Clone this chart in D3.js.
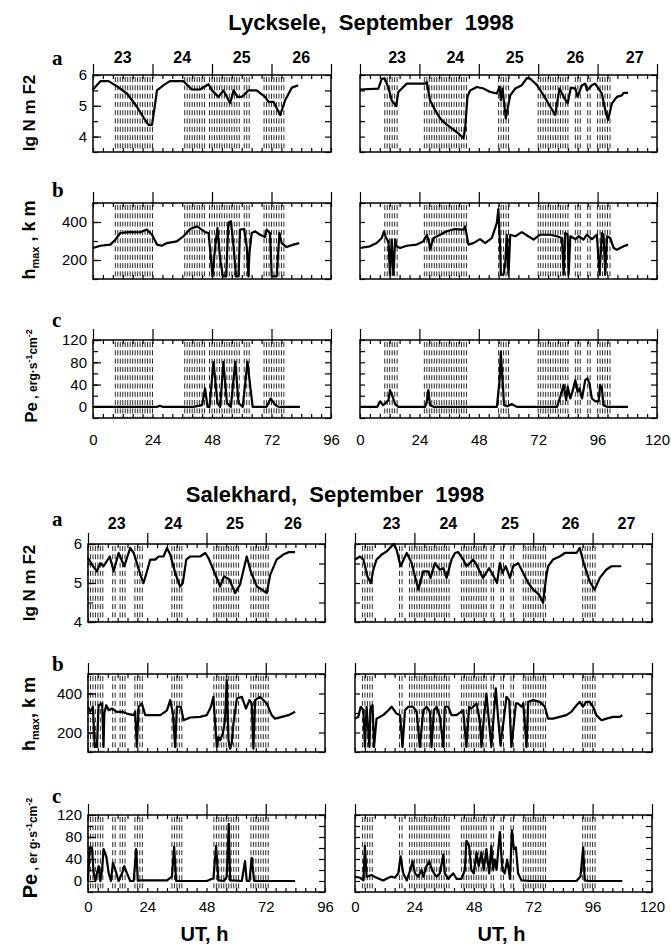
<!DOCTYPE html>
<meta charset="utf-8">
<style>
    body { margin: 0; background: #fff; }
    svg { font-family: "Liberation Sans", Arial, sans-serif; }
    .frame { fill: none; stroke: #000; stroke-width: 1.5px; }
    .tick line { stroke: #000; stroke-width: 1.2px; }
    .tick text { font-size: 15px; fill: #000; }
    .domain { display: none; }
    .aur { stroke: #2a2a2a; stroke-width: 1px; stroke-dasharray: 5,3.3; }
    .series { fill: none; stroke: #000; stroke-width: 2.2px; stroke-linejoin: round; }
    .letter { font-family: "Liberation Serif", "Times New Roman", serif; font-weight: bold; font-size: 21px; }
    .day { font-weight: bold; font-size: 16px; text-anchor: middle; }
    .ytitle { font-weight: bold; text-anchor: middle; }
    .title { font-weight: bold; font-size: 22px; text-anchor: middle; white-space: pre; }
</style>
<body>
<script src="https://d3js.org/d3.v7.min.js"></script>
<script>
// ---------- data (UT hours, value) ----------
var xTicksLeft = [0, 24, 48, 72, 96],
    xTicksRight = [0, 24, 48, 72, 96, 120];
var daysLeft = ["23", "24", "25", "26"],
    daysRight = ["23", "24", "25", "26", "27"];

// Lycksele
var lyckDayHoursL = [12, 36, 60, 84],
    lyckDayHoursR = [15, 38.5, 62.5, 87, 111];
var lyckAurL = [[9, 24], [37, 45], [47, 59], [61, 63], [69, 77]],
    lyckAurR = [[10, 15], [26, 43], [56, 60], [72, 84], [87, 89], [92, 93], [96, 101]];

var lyckL_nmf2 = [[0,5.53],[3,5.8],[6.3,5.8],[9.7,5.63],[13.7,5.4],[17.7,4.97],[21,4.54],[22.4,4.38],[23.8,4.38],[24.7,4.86],[25.8,5.5],[28.5,5.67],[31,5.8],[36.5,5.8],[39.9,5.53],[43.2,5.53],[46.6,5.7],[48,5.5],[50.6,5.29],[52.6,5.5],[54,5.29],[55.3,5.08],[56.7,5.5],[58.3,5.29],[60,5.29],[62.7,5.5],[66,5.5],[69.4,5.29],[70.8,5.13],[72.8,5.13],[75.5,4.7],[77.5,5.18],[80.2,5.59],[82.8,5.67]];
var lyckR_nmf2 = [[0,5.53],[7.4,5.56],[8.8,5.88],[10,5.88],[11.5,5.59],[12.8,5.18],[14.6,4.99],[15.5,5.45],[16.9,5.56],[18.9,5.72],[26.3,5.72],[27,5.77],[28.3,5.18],[30.3,4.86],[32.4,4.59],[34.4,4.43],[37.1,4.27],[39.8,4.1],[41.8,3.95],[42.5,4.27],[43.4,5.29],[44.5,5.5],[47.2,5.61],[49.9,5.56],[52.6,5.45],[55.3,5.4],[56.4,5.61],[56.9,5.18],[57.6,5.56],[58.9,4.59],[60.7,5.34],[62.7,5.56],[65.4,5.67],[67.4,5.9],[68.8,5.88],[71.5,5.67],[74.2,5.34],[76.9,4.97],[78.9,4.7],[80.6,5.56],[82.3,5.29],[83.9,5.08],[85.2,5.59],[87,5.56],[87.9,5.29],[89.7,5.67],[91,5.72],[91.7,5.5],[93.7,5.67],[95,5.72],[96.4,5.56],[97.7,5.4],[99.1,4.86],[100.2,4.54],[101.8,5.08],[103.8,5.29],[105.8,5.34],[106.5,5.42],[108.3,5.42]];

var lyckL_hmax = [[0,263],[3,275],[7,281],[9,307],[11,342],[14.4,347],[19,346],[21.7,360],[23.8,333],[25.8,281],[27.8,275],[29.8,289],[33.8,298],[36.5,325],[39.2,363],[41.9,377],[43.9,360],[45.2,347],[46.6,342],[47.5,219],[48.2,114],[49.3,272],[50.2,368],[51.3,202],[52.4,114],[53.7,114],[54.6,395],[55.6,404],[56.7,272],[57.7,114],[58.7,114],[59.3,360],[61,363],[62,272],[62.7,114],[63.1,237],[64,342],[65.4,351],[67.4,333],[69.4,321],[70,360],[71.4,342],[72.1,114],[74.1,114],[75.2,342],[76.1,289],[78.1,268],[80.8,281],[83.2,289]];
var lyckR_hmax = [[0,263],[4,272],[6.7,289],[8.8,316],[9.7,351],[10.5,316],[11.5,298],[12.1,123],[12.8,307],[13.5,123],[14.2,307],[14.8,272],[16.2,263],[18.9,275],[22.9,281],[25.6,298],[27,333],[28,289],[28.3,254],[29.7,316],[32.4,333],[35,351],[38.4,363],[41.8,360],[42.5,377],[43.8,281],[45.8,289],[48.5,310],[50.6,289],[53.3,316],[55.3,395],[55.9,468],[56.6,272],[56.9,123],[58,123],[58.7,184],[59.3,333],[60,123],[60.7,333],[62.7,325],[65.4,347],[68,325],[70.1,307],[72.8,333],[76.9,333],[79.6,325],[81.6,316],[82.3,123],[82.9,342],[83.9,333],[84.3,123],[85,325],[87,310],[88.4,325],[90.3,307],[91.7,333],[93.7,310],[95.7,333],[96.8,123],[97.7,342],[98.4,333],[99.1,123],[99.8,325],[101.1,316],[102.5,263],[103.8,254],[106.5,272],[108.3,281]];

var lyckL_pe = [[0,0],[26,0],[27,2],[28,0],[40.5,0],[44,3],[45.2,33],[46.2,0],[47,0],[48.6,81],[50.2,7],[51.3,0],[52.6,81],[54,7],[55.6,0],[57.4,81],[58.7,7],[60.4,0],[62.3,81],[63.6,30],[64.4,0],[70,0],[71.7,15],[73.4,4],[74.8,0],[83.5,0]];
var lyckR_pe = [[0,0],[7,0],[8.1,10],[9.4,3],[11.5,12],[12.1,30],[13.2,18],[14.2,5],[15.5,0],[26.3,0],[27,10],[27.6,30],[28.3,3],[29.7,0],[55.3,0],[56.4,48],[56.9,99],[57.6,48],[58.2,3],[59.5,1],[61.3,5],[63.4,0],[79.6,0],[80.9,18],[82.3,39],[83.3,12],[83.9,36],[85,15],[86,30],[87,48],[87.9,27],[88.7,33],[89.7,15],[91,48],[91.9,51],[92.7,42],[93.7,15],[95,10],[96.4,10],[97,39],[97.7,33],[98.4,3],[99.8,0],[108.3,0]];

// Salekhard
var salDayHoursL = [11.6, 34.5, 59.5, 83],
    salDayHoursR = [14.8, 37.7, 62.6, 87.1, 109.7];
var salAurL = [[0, 6], [10, 11], [13, 15], [19, 22], [34, 38], [51, 61], [66, 73]],
    salAurR = [[3, 7], [18, 19], [22, 38], [43, 53], [55, 56], [59, 60], [63, 64], [68, 77], [92, 97]];

var salL_nmf2 = [[0,5.64],[1.6,5.47],[3.6,5.3],[5,5.51],[6.3,5.43],[8.8,5.68],[10.4,5.3],[12.4,5.77],[14.7,5.43],[17.1,5.9],[18.5,5.77],[19.8,5.51],[21.2,5.21],[22.5,5.0],[23.9,5.3],[25.2,5.6],[27.2,5.6],[28.6,5.68],[30.6,5.68],[32,5.9],[33.3,5.73],[35.3,5.26],[37.3,4.91],[38.4,5.0],[39.8,5.6],[41.4,5.68],[45.4,5.68],[47.5,5.77],[48.8,5.64],[50.8,5.34],[53.5,4.91],[55.1,5.17],[57.3,5.09],[59.6,4.74],[61.6,4.96],[64.3,5.68],[65.9,5.3],[68.4,4.91],[70.4,4.83],[72.4,4.74],[73.8,5.21],[76.4,5.6],[79.1,5.73],[81.2,5.79],[83.9,5.79]];
var salR_nmf2 = [[0,5.6],[2,5.68],[3.4,5.6],[5,5.17],[6.4,5.0],[7.4,5.34],[8.7,5.6],[10.8,5.73],[12.8,5.81],[14.1,5.9],[15.7,6.0],[16.8,5.85],[18.4,5.43],[20.9,5.77],[22.9,5.51],[25.6,4.83],[27.6,5.3],[29.6,5.3],[30.5,5.13],[32.3,5.51],[34.3,5.34],[35.7,5.38],[37,5.13],[39,5.6],[40.4,5.77],[41.7,5.79],[43.7,5.6],[45,5.43],[46.4,5.51],[47.7,5.6],[49.1,5.47],[51.7,5.13],[54.2,5.38],[55.7,5.21],[57.4,5.0],[58.5,5.51],[59.6,5.26],[60.9,5.43],[62.6,5.13],[63.9,5.43],[65.9,5.51],[67.3,5.34],[70,5.0],[72,4.83],[74.4,4.7],[76,4.49],[77.1,5.09],[78,5.43],[80,5.6],[82.7,5.68],[84.8,5.77],[89.5,5.77],[90.8,5.9],[92.4,5.51],[94.8,5.04],[96.8,4.83],[98.9,5.13],[101.5,5.34],[103.6,5.43],[107.6,5.43]];

var salL_hmax = [[0,332],[0.9,306],[2,332],[2.7,126],[3.6,126],[4.3,340],[5.7,349],[6.3,126],[6.6,297],[7.4,340],[8.4,314],[9.7,323],[11.7,306],[13.8,306],[15.8,297],[18.5,289],[19.1,306],[19.8,126],[20.5,332],[21.8,349],[23.2,289],[29.3,289],[32,314],[33.3,366],[34.4,297],[35.3,126],[36,332],[37.6,332],[38.7,263],[41.4,277],[45.4,280],[48.1,289],[49.8,332],[50.8,383],[51.5,246],[52.2,126],[52.8,177],[53.5,160],[54.6,194],[55.5,263],[56.2,469],[56.9,160],[57.6,117],[58.2,143],[58.9,246],[60.3,374],[62.3,383],[64,323],[65.4,366],[66.3,349],[67,117],[67.7,366],[69.7,383],[72.4,349],[74.4,289],[75.8,271],[78.5,280],[81.2,289],[83.9,306]];
var salR_hmax = [[0,271],[1.3,280],[2.3,332],[3.4,314],[4,126],[4.7,332],[5.8,126],[6.3,332],[7.1,340],[7.7,126],[8.7,271],[11.4,289],[13.5,314],[14.8,332],[16.8,297],[18.2,289],[19.2,126],[20.2,314],[21.5,332],[23.5,332],[24.9,306],[26.2,126],[27.6,314],[28.9,332],[30.3,306],[30.9,126],[31.9,314],[33,332],[34.3,280],[35.7,126],[36.3,332],[37.7,332],[39,289],[41,289],[43.7,314],[45,126],[46.1,332],[47,323],[48.4,340],[49.1,349],[50.4,263],[51.1,126],[52,263],[53.1,400],[54.2,246],[55.1,126],[55.8,246],[56.9,426],[57.8,280],[58.8,134],[59.9,246],[61.2,383],[62.3,366],[63.2,126],[64.2,246],[65,349],[65.9,349],[67.3,332],[68,349],[69.3,126],[70,357],[72,366],[74.7,357],[76.7,332],[78,271],[80,271],[82.7,280],[85.4,289],[87.4,306],[89.5,340],[90.8,357],[92.1,332],[93.4,357],[94.8,357],[96.2,332],[97.5,289],[99.6,263],[101.6,271],[104.3,280],[107,280],[108,289]];

var salL_pe = [[0,0],[0.7,61],[1.6,61],[2.3,14],[3,0],[3.6,14],[4.3,27],[5,0],[5.7,20],[6.3,58],[7.4,45],[8.4,14],[9.3,0],[10.1,33],[11.1,20],[12.4,0],[13.8,14],[14.7,27],[15.8,14],[17.1,0],[18.5,0],[19.5,58],[20.2,0],[21.2,1],[32,1],[34,8],[34.9,62],[35.7,0],[48.1,0],[50.8,5],[51.9,64],[52.8,1],[55.1,0],[56.2,8],[57,104],[57.6,1],[62.3,0],[63.6,36],[64.3,0],[65.4,0],[66.3,42],[67.3,0],[83.9,0]];
var salR_pe = [[0,8],[2,6],[3.4,1],[4,64],[4.7,8],[6.7,11],[8.7,6],[11.4,1],[13.5,6],[14.8,8],[16.1,6],[17.5,14],[18.4,45],[19.5,14],[20.9,1],[22.3,20],[23.3,36],[24.2,14],[25.6,8],[26.9,20],[27.6,8],[28.9,27],[30,36],[30.9,23],[31.9,14],[33,8],[34.3,14],[35.7,48],[36.3,14],[37.7,4],[39.7,14],[41,4],[43,4],[44.4,20],[45,73],[46.1,64],[47,20],[48,14],[49.1,52],[50,27],[51.1,52],[52,20],[53.1,58],[54.2,14],[55.1,64],[55.8,20],[56.5,39],[57.2,20],[58.5,89],[59.6,20],[60.5,14],[61.5,39],[62.6,4],[63.4,92],[64.2,58],[65,61],[65.9,14],[67.3,1],[70.6,0],[89.5,0],[91.1,8],[92.2,61],[92.8,1],[94.2,0],[108,0]];

// ---------- layout ----------
var width = 671, height = 945;
var svg = d3.select('body').append('svg')
    .attr('width', width)
    .attr('height', height);

var groups = [
    {
        title: "Lycksele,  September  1998", titleX: 371, titleY: 30,
        cols: [
            { x0: 93, x1: 331, max: 96, ticks: xTicksLeft, days: daysLeft, dayHours: lyckDayHoursL, aur: lyckAurL,
              series: [lyckL_nmf2, lyckL_hmax, lyckL_pe] },
            { x0: 360, x1: 657, max: 120, ticks: xTicksRight, days: daysRight, dayHours: lyckDayHoursR, aur: lyckAurR,
              series: [lyckR_nmf2, lyckR_hmax, lyckR_pe] }
        ],
        rows: [
            { y0: 75, y1: 152, dom: [3.5, 6], labels: [4, 5, 6], step: 0.5, letter: "a", ly: 65 },
            { y0: 203, y1: 279, dom: [100, 500], labels: [200, 400], step: 100, letter: "b", ly: 197 },
            { y0: 340, y1: 418, dom: [-20, 120], labels: [0, 40, 80, 120], step: 20, letter: "c", ly: 327 }
        ],
        dayY: 63, xPad: 16,
        yTitles: [113, 240, 376], peText: "erg·s"
    },
    {
        title: "Salekhard,  September  1998", titleX: 335, titleY: 502,
        cols: [
            { x0: 88, x1: 325, max: 96, ticks: xTicksLeft, days: daysLeft, dayHours: salDayHoursL, aur: salAurL,
              series: [salL_nmf2, salL_hmax, salL_pe] },
            { x0: 355, x1: 652, max: 120, ticks: xTicksRight, days: daysRight, dayHours: salDayHoursR, aur: salAurR,
              series: [salR_nmf2, salR_hmax, salR_pe] }
        ],
        rows: [
            { y0: 544, y1: 622, dom: [4, 6], labels: [4, 5, 6], step: 0.5, letter: "a", ly: 526 },
            { y0: 674, y1: 752, dom: [100, 500], labels: [200, 400], step: 100, letter: "b", ly: 671 },
            { y0: 815, y1: 892, dom: [-20, 120], labels: [0, 40, 80, 120], step: 20, letter: "c", ly: 803 }
        ],
        dayY: 529, xPad: 9,
        yTitles: [583, 714, 848], peText: "er g·s"
    }
];

var line = d3.line();

groups.forEach(function (g, gi) {
    svg.append('text').attr('class', 'title')
        .attr('x', g.titleX).attr('y', g.titleY)
        .attr('xml:space', 'preserve')
        .text(g.title);

    g.cols.forEach(function (c, ci) {
        var x = d3.scaleLinear().domain([0, c.max]).range([c.x0, c.x1]);

        // day numbers above panel a
        svg.selectAll(null).data(c.days).enter().append('text')
            .attr('class', 'day')
            .attr('x', function (d, i) { return x(c.dayHours[i]); })
            .attr('y', g.dayY)
            .text(function (d) { return d; });

        g.rows.forEach(function (r, ri) {
            var y = d3.scaleLinear().domain(r.dom).range([r.y1, r.y0]);
            var p = svg.append('g');

            // auroral-oval hours: dashed verticals
            var hrs = [];
            c.aur.forEach(function (iv) {
                for (var h = iv[0]; h <= iv[1]; h++) hrs.push(h);
            });
            p.selectAll('.aur').data(hrs).enter().append('line')
                .attr('class', 'aur')
                .attr('x1', function (d) { return x(d); })
                .attr('x2', function (d) { return x(d); })
                .attr('y1', r.y0 + 2).attr('y2', r.y1);

            var yMinor = d3.range(r.dom[0], r.dom[1] + 1e-6, r.step);
            var xMinor = d3.range(0, c.max + 1e-6, 4);

            p.append('g').attr('transform', 'translate(' + c.x0 + ',0)')
                .call(d3.axisLeft(y).tickValues(yMinor).tickSize(-5).tickFormat(''));
            p.append('g').attr('transform', 'translate(' + c.x1 + ',0)')
                .call(d3.axisRight(y).tickValues(yMinor).tickSize(-6).tickFormat(''));
            p.append('g').attr('transform', 'translate(0,' + r.y1 + ')')
                .call(d3.axisBottom(x).tickValues(xMinor).tickSize(-4).tickFormat(''));
            p.append('g').attr('transform', 'translate(0,' + r.y0 + ')')
                .call(d3.axisTop(x).tickValues(xMinor).tickSize(-4).tickFormat(''));
            // day boundaries stick out above the frame
            p.append('g').attr('transform', 'translate(0,' + r.y0 + ')')
                .call(d3.axisTop(x).tickValues(c.ticks).tickSize(11).tickFormat(''));

            if (ci === 0) {
                p.append('g').attr('transform', 'translate(' + c.x0 + ',0)')
                    .call(d3.axisLeft(y).tickValues(r.labels).tickSize(-8).tickPadding(6).tickFormat(d3.format('d')));
                svg.append('text').attr('class', 'letter')
                    .attr('x', 52).attr('y', r.ly)
                    .text(r.letter);
            }
            if (ri === 2) {
                p.append('g').attr('transform', 'translate(0,' + r.y1 + ')')
                    .call(d3.axisBottom(x).tickValues(c.ticks).tickSize(0).tickPadding(g.xPad));
            }

            p.append('rect').attr('class', 'frame')
                .attr('x', c.x0).attr('y', r.y0)
                .attr('width', c.x1 - c.x0).attr('height', r.y1 - r.y0);

            p.append('path').attr('class', 'series')
                .attr('d', line.x(function (d) { return x(d[0]); }).y(function (d) { return y(d[1]); })(c.series[ri]));
        });

        if (gi === 1) {
            svg.append('text')
                .attr('x', (c.x0 + c.x1) / 2 - 2).attr('y', 941)
                .attr('text-anchor', 'middle')
                .style('font-weight', 'bold').style('font-size', '20px')
                .text('UT, h');
        }
    });

    // y-axis titles
    svg.append('text').attr('class', 'ytitle')
        .attr('transform', 'translate(35,' + g.yTitles[0] + ') rotate(-90)')
        .style('font-size', '17px')
        .text('lg N m F2');

    var t2 = svg.append('text').attr('class', 'ytitle')
        .attr('transform', 'translate(35,' + g.yTitles[1] + ') rotate(-90)')
        .style('font-size', '18px');
    t2.append('tspan').text('h');
    t2.append('tspan').attr('dy', 4).style('font-size', '11px').text('max');
    t2.append('tspan').attr('dy', -4).text(gi === 0 ? ' , k m' : ', k m');

    var t3 = svg.append('text').attr('class', 'ytitle')
        .attr('transform', 'translate(37,' + g.yTitles[2] + ') rotate(-90)')
        .style('font-size', '12px');
    t3.append('tspan').style('font-size', gi === 0 ? '17px' : '20px').text('Pe');
    t3.append('tspan').text(' , ' + g.peText);
    t3.append('tspan').attr('dy', -5).style('font-size', '9px').text('-1');
    t3.append('tspan').attr('dy', 5).text('cm');
    t3.append('tspan').attr('dy', -5).style('font-size', '9px').text('-2');
});
</script>
</body>
